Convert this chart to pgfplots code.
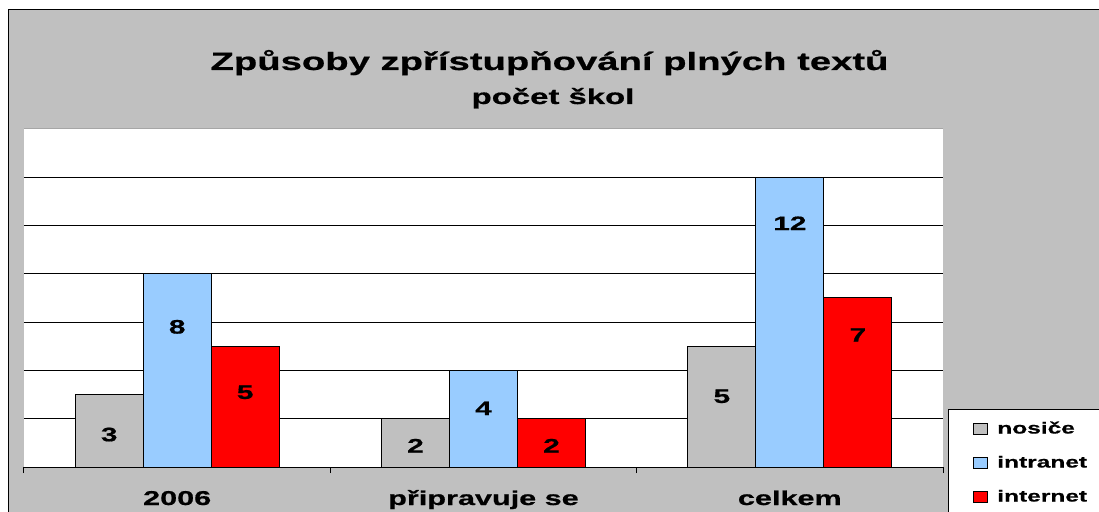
\documentclass[border=0pt]{standalone}
\usepackage{pgfplots}
\pgfplotsset{compat=1.18}
\usepackage{pgfplotstable}
\usepackage{fontspec}
\setmainfont{Liberation Sans}
\newfontfamily\cf[FakeStretch=1.53, FakeBold=0.7]{Liberation Sans}
\definecolor{bggray}{HTML}{C0C0C0}
\definecolor{barblue}{HTML}{99CCFF}
\definecolor{barred}{HTML}{FF0000}

\pgfplotstableread{
x y off
0 3 40
1 2 27
2 5 50
}\nosice
\pgfplotstableread{
x y off
0 8 53
1 4 38
2 12 46
}\intranet
\pgfplotstableread{
x y off
0 5 46
1 2 27
2 7 37
}\internet

\begin{document}
\begin{tikzpicture}[x=1pt,y=1pt]
\useasboundingbox (0,0) rectangle (1099,511);
\clip (0,0) rectangle (1099,511);
\fill[white] (0,0) rectangle (1099,511);
\filldraw[fill=bggray, draw=black, line width=1pt] (8,-10) rectangle (1115,501);
\fill[white] (24,44) rectangle (943,382);
\draw[gray!70, line width=1pt] (24,382) -- (943,382);
\node[anchor=base, inner sep=0pt, font=\cf\bfseries\fontsize{25}{30}\selectfont] at (549.5,441) {Způsoby zpřístupňování plných textů};
\node[anchor=base, inner sep=0pt, font=\cf\bfseries\fontsize{21.5}{26}\selectfont] at (553,407) {počet škol};
\begin{axis}[
  at={(24pt,44pt)}, anchor=south west, scale only axis,
  width=919pt, height=338pt,
  xmin=-0.5, xmax=2.5, ymin=0, ymax=14,
  ybar=0pt, bar width=68pt,
  axis x line*=bottom, axis y line*=left,
  y axis line style={draw=none},
  x axis line style={black, line width=1pt, -},
  xtick={0,1,2}, xticklabels={2006, připravuje se, celkem},
  major tick length=0pt,
  extra x ticks={-0.5,0.5,1.5,2.5}, extra x tick labels={},
  extra x tick style={major tick length=6pt, tick align=outside, tick style={black, line width=1pt}},
  xticklabel style={anchor=base, yshift=-38pt, font=\cf\bfseries\fontsize{20}{24}\selectfont},
  ytick={2,4,...,12}, yticklabels={}, ytick style={draw=none},
  ymajorgrids=true,
  major grid style={black, line width=0.9pt},
  /pgf/number format/assume math mode=true,
  nodes near coords,
  visualization depends on={\thisrow{off} \as \labeloff},
  every node near coord/.append style={anchor=center, yshift=-\labeloff pt, font=\cf\bfseries\fontsize{19.5}{22}\selectfont, black},
  legend style={at={(1.00544,0.1716)}, anchor=north west, draw=black, fill=white,
    line width=1pt, inner xsep=24pt, inner ysep=12pt, row sep=19pt, column sep=10pt,
    font=\cf\bfseries\fontsize{16}{19}\selectfont,
    nodes={inner sep=0pt, text height=12pt, text depth=3pt, anchor=west}},
  legend cell align=left,
  legend image code/.code={\draw[#1, draw=black, line width=0.8pt] (0pt,-5pt) rectangle (14pt,6pt);},
]
\addplot[fill=bggray, draw=black, line width=1pt] table[x=x, y=y] {\nosice};
\addplot[fill=barblue, draw=black, line width=1pt] table[x=x, y=y] {\intranet};
\addplot[fill=barred, draw=black, line width=1pt] table[x=x, y=y] {\internet};
\legend{nosiče, intranet, internet}
\end{axis}
\end{tikzpicture}
\end{document}
